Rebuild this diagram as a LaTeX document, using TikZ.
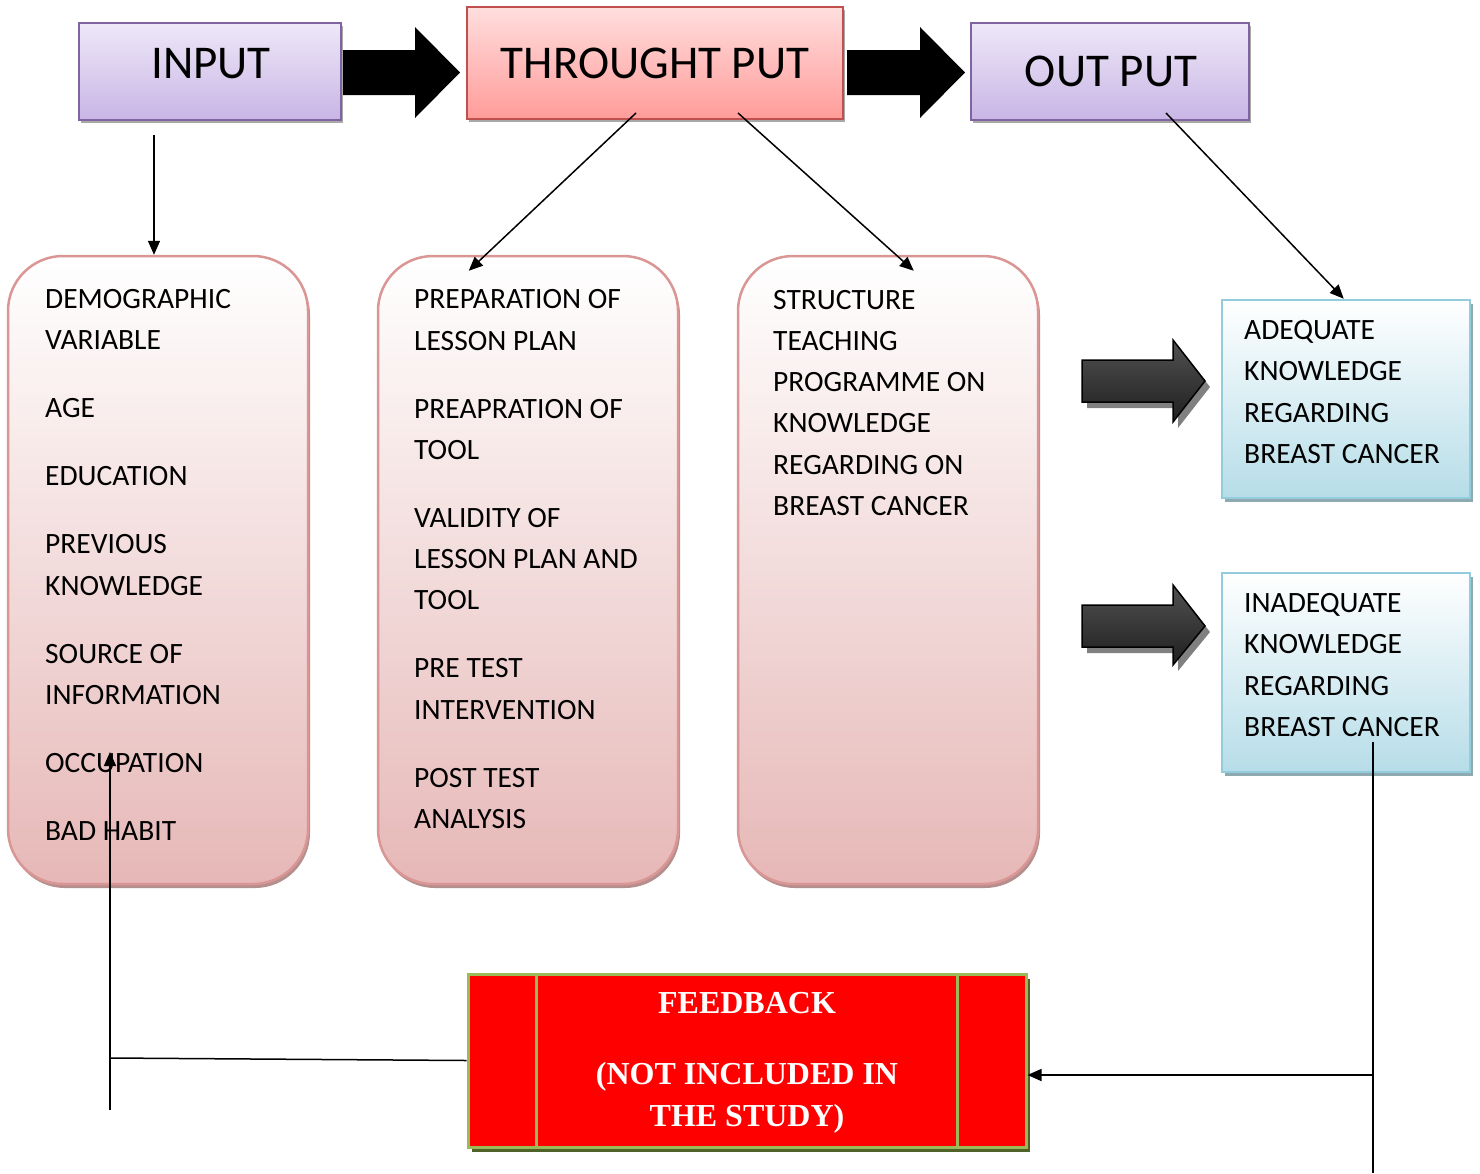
\documentclass[tikz,border=0pt]{standalone}
\usepackage{fontspec}
\setmainfont{Carlito}
\newfontfamily\fbfont{Liberation Serif}
\usetikzlibrary{arrows.meta,shadows,calc}
\definecolor{lavtop}{HTML}{EEE8F8}
\definecolor{lavbot}{HTML}{C8B5E5}
\definecolor{lavborder}{HTML}{8064A2}
\definecolor{tptop}{HTML}{FFDEDE}
\definecolor{tpbot}{HTML}{FF9C99}
\definecolor{tpborder}{HTML}{C0504D}
\definecolor{topshadow}{HTML}{A8A8A8}
\definecolor{roundborder}{HTML}{D99694}
\definecolor{roundbot}{HTML}{E6B8B7}
\definecolor{roundshadow}{HTML}{B58F8E}
\definecolor{blueborder}{HTML}{93CDDD}
\definecolor{bluebot}{HTML}{B6DDE8}
\definecolor{blueshadow}{HTML}{8FA9B0}
\definecolor{fbgreen}{HTML}{9BBB59}
\definecolor{fbshadow}{HTML}{4F6228}
\def\bxgap{26.7pt}
\begin{document}
\begin{tikzpicture}[x=1pt,y=-1pt,
  lavbox/.style={draw=lavborder, line width=2pt, inner sep=0pt, top color=lavtop, bottom color=lavbot,
    general shadow={fill=topshadow, shadow xshift=1.5pt, shadow yshift=-3pt}},
  tpbox/.style={draw=tpborder, line width=2pt, inner sep=0pt, top color=tptop, bottom color=tpbot,
    general shadow={fill=topshadow, shadow xshift=1.5pt, shadow yshift=-3pt}},
  toptext/.style={inner sep=0pt, font=\fontsize{47}{56}\selectfont},
  roundbox/.style={draw=roundborder, line width=2.5pt, rounded corners=55pt, inner sep=0pt,
    top color=white, bottom color=roundbot,
    general shadow={fill=roundshadow, shadow xshift=2pt, shadow yshift=-4pt}},
  bluebox/.style={draw=blueborder, line width=2.5pt, inner sep=0pt, top color=white, bottom color=bluebot,
    general shadow={fill=blueshadow, shadow xshift=3pt, shadow yshift=-4pt}},
  listtext/.style={anchor=base west, align=left, inner sep=0pt, font=\fontsize{29.5}{41.3}\selectfont},
  fbbox/.style={fill=red, draw=fbgreen, line width=3pt, inner sep=0pt,
    general shadow={fill=fbshadow, shadow xshift=4pt, shadow yshift=-5pt}},
  fbtext/.style={anchor=base, align=center, inner sep=0pt, text=white,
    font=\fbfont\bfseries\fontsize{32}{42}\selectfont},
  conn/.style={line width=1.5pt},
  arr/.style={line width=1.5pt, -{Triangle[length=14pt,width=12pt]}},
  blockarrow/.style={fill=black},
  shadearrow/.style={draw=black, line width=1.5pt, top color=black!68, middle color=black, bottom color=black!88},
  arrowshadow/.style={fill=black!50}
]
\useasboundingbox (0,0) rectangle (1480,1173);

% top boxes
\node[lavbox, minimum width=262pt, minimum height=97pt] (input) at (210,71.5) {};
\node[tpbox, minimum width=376pt, minimum height=112pt] (tp) at (655,63) {};
\node[lavbox, minimum width=278pt, minimum height=97pt] (output) at (1110,71.5) {};
\node[toptext] (inputt) at (211,63.5) {INPUT};
\node[toptext] (tpt) at (655,63) {THROUGHT PUT};
\node[toptext] (outputt) at (1111,71) {OUT PUT};

% block arrows between top boxes
\fill[blockarrow] (343,50) -- (415,50) -- (415,27) -- (460,72.5) -- (415,118) -- (415,95) -- (343,95) -- cycle;
\fill[blockarrow] (847,50) -- (920,50) -- (920,27) -- (965,72.5) -- (920,118) -- (920,95) -- (847,95) -- cycle;

% rounded boxes
\node[roundbox, minimum width=300pt, minimum height=628pt] (box1) at (158,570) {};
\node[roundbox, minimum width=300pt, minimum height=628pt] (box2) at (528,570) {};
\node[roundbox, minimum width=300pt, minimum height=628pt] (box3) at (888,570) {};

\node[listtext] (t1) at (45,840.5) {DEMOGRAPHIC\\VARIABLE\\[\bxgap]AGE\\[\bxgap]EDUCATION\\[\bxgap]PREVIOUS\\KNOWLEDGE\\[\bxgap]SOURCE OF\\INFORMATION\\[\bxgap]OCCUPATION\\[\bxgap]BAD HABIT};
\node[listtext] (t2) at (414,828.5) {PREPARATION OF\\LESSON PLAN\\[\bxgap]PREAPRATION OF\\TOOL\\[\bxgap]VALIDITY OF\\LESSON PLAN AND\\TOOL\\[\bxgap]PRE TEST\\INTERVENTION\\[\bxgap]POST TEST\\ANALYSIS};
\node[listtext] (t3) at (773,515.5) {STRUCTURE\\TEACHING\\PROGRAMME ON\\KNOWLEDGE\\REGARDING ON\\BREAST CANCER};

% right boxes
\node[bluebox, minimum width=248pt, minimum height=198pt] (adeq) at (1346,399) {};
\node[bluebox, minimum width=248pt, minimum height=199pt] (inadeq) at (1346,672.5) {};
\node[listtext] (t4) at (1244,463.5) {ADEQUATE\\KNOWLEDGE\\REGARDING\\BREAST CANCER};
\node[listtext] (t5) at (1244,736.5) {INADEQUATE\\KNOWLEDGE\\REGARDING\\BREAST CANCER};

% shaded right arrows
\fill[arrowshadow] (1087,366) -- (1178,366) -- (1178,346) -- (1210,387) -- (1178,428) -- (1178,408) -- (1087,408) -- cycle;
\shade[shadearrow] (1082,360) -- (1173,360) -- (1173,340) -- (1205,381) -- (1173,422) -- (1173,402) -- (1082,402) -- cycle;
\fill[arrowshadow] (1087,611) -- (1178,611) -- (1178,591) -- (1210,632) -- (1178,671) -- (1178,653) -- (1087,653) -- cycle;
\shade[shadearrow] (1082,605) -- (1173,605) -- (1173,585) -- (1205,626) -- (1173,665) -- (1173,647) -- (1082,647) -- cycle;

% feedback box
\node[fbbox, minimum width=558pt, minimum height=173pt] (fb) at (747,1060.5) {};
\draw[fbgreen, line width=3pt] ([xshift=70pt]fb.north west) -- ([xshift=70pt]fb.south west);
\draw[fbgreen, line width=3pt] ([xshift=-70pt]fb.north east) -- ([xshift=-70pt]fb.south east);
\node[fbtext] (fbt) at (747,1126.5) {FEEDBACK\\[29pt](NOT INCLUDED IN\\THE STUDY)};

% connectors
\coordinate (inS) at (154,135);
\draw[arr] (inS) -- (inS |- box1.north);
\coordinate (tpA) at (636,113);
\coordinate (tpB) at (738,113);
\draw[arr] (tpA) -- ($(box2.north west)+(92,16)$);
\draw[arr] (tpB) -- ($(box3.north west)+(177,16)$);
\coordinate (outA) at (1166,113);
\draw[arr] (outA) -- ($(adeq.north west)+(123,0)$);
\coordinate (inadA) at (1373,742);
\coordinate (inadB) at (1373,1173);
\draw[conn] (inadA) -- (inadB);
\coordinate (hj) at (1373,1075);
\draw[arr] (hj) -- (hj -| fb.east);
\coordinate (fbL) at (110,1058);
\draw[conn] (fb.west) -- (fbL);
\coordinate (vb) at (110,1110);
\coordinate (vt) at (110,752);
\draw[arr] (vb) -- (vt);
\end{tikzpicture}
\end{document}
